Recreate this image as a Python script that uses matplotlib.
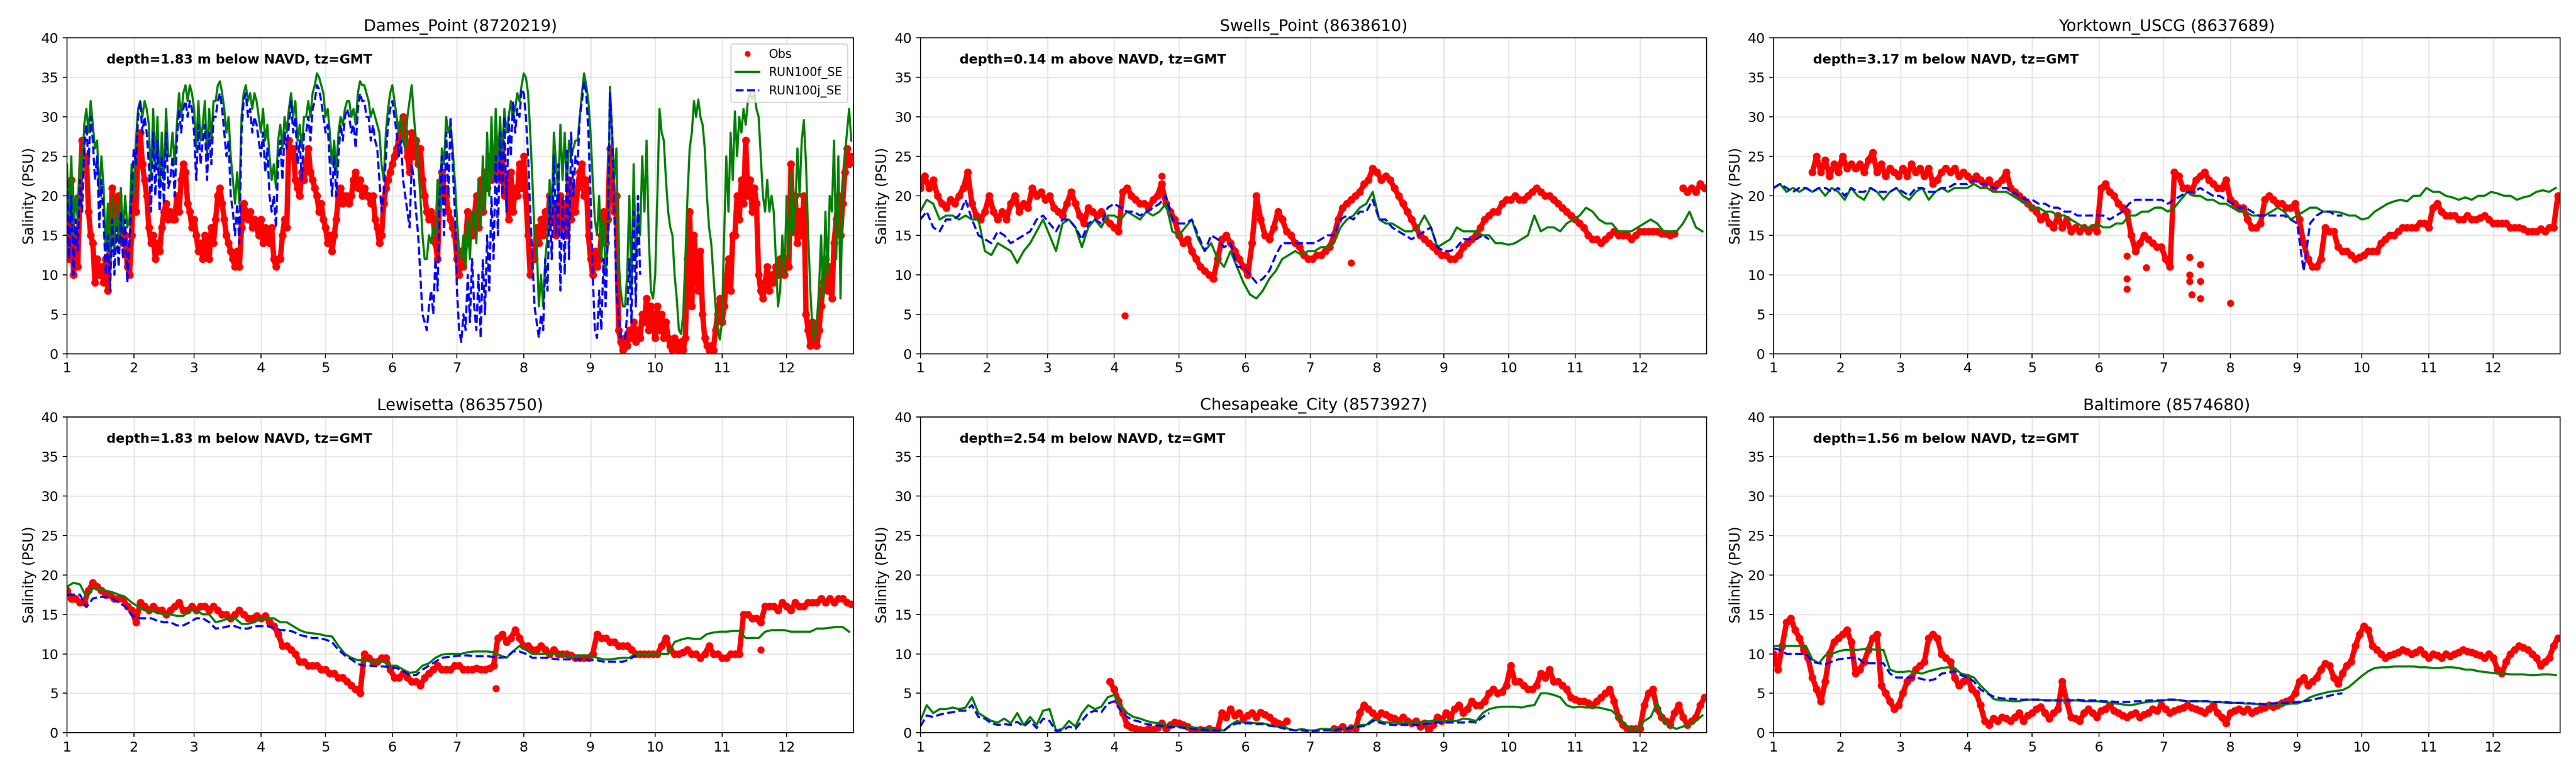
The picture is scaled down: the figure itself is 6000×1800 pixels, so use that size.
import numpy as np
import matplotlib
matplotlib.use('Agg')
import matplotlib.pyplot as plt

nan = np.nan

# x axis: day of year, ticks on the first day of each month
month_start = [0, 31, 59, 90, 120, 151, 181, 212, 243, 273, 304, 334]
month_labels = ['1', '2', '3', '4', '5', '6', '7', '8', '9', '10', '11', '12']

titles = ['Dames_Point (8720219)', 'Swells_Point (8638610)', 'Yorktown_USCG (8637689)',
          'Lewisetta (8635750)', 'Chesapeake_City (8573927)', 'Baltimore (8574680)']
depths = ['depth=1.83 m below NAVD, tz=GMT', 'depth=0.14 m above NAVD, tz=GMT',
          'depth=3.17 m below NAVD, tz=GMT', 'depth=1.83 m below NAVD, tz=GMT',
          'depth=2.54 m below NAVD, tz=GMT', 'depth=1.56 m below NAVD, tz=GMT']

# ---- Dames_Point: daily values ----
dp_obs = [20, 12, 22, 10, 15, 11, 20, 27, 24, 25,
          18, 15, 14, 9, 12, 10, 11, 9, 12, 8,
          15, 21, 17, 18, 20, 17, 14, 15, 11, 10,
          15, 22, 18, 26, 28, 24, 22, 20, 16, 14,
          15, 12, 14, 13, 16, 18, 19, 17, 18, 17,
          17, 20, 18, 22, 24, 23, 19, 18, 16, 17,
          15, 13, 14, 12, 15, 13, 12, 16, 14, 17,
          20, 21, 19, 17, 15, 14, 13, 12, 11, 13,
          11, 16, 19, 18, 17, 18, 16, 17, 16, 15,
          17, 14, 16, 15, 14, 16, 12, 11, 12, 12,
          15, 17, 16, 27, 25, 26, 22, 21, 20, 23,
          22, 24, 26, 23, 22, 21, 20, 18, 19, 17,
          16, 14, 15, 13, 15, 17, 20, 21, 19, 20,
          20, 19, 20, 22, 23, 21, 22, 20, 21, 20,
          20, 19, 20, 17, 16, 14, 15, 19, 21, 22,
          23, 24, 25, 26, 27, 29, 30, 28, 25, 23,
          28, 25, 27, 24, 26, 22, 20, 18, 17, 18,
          17, 14, 12, 20, 23, 21, 20, 18, 17, 16,
          15, 12, 10, 13, 11, 14, 18, 16, 15, 17,
          20, 16, 22, 18, 23, 21, 25, 22, 24, 23,
          27, 22, 26, 20, 22, 17, 23, 18, 21, 20,
          24, 21, 25, 20, 15, 10, 13, 12, 16, 14,
          17, 15, 18, 16, 20, 17, 19, 15, 18, 20,
          16, 19, 15, 22, 17, 20, 18, 21, 23, 24,
          20, 22, 15, 12, 10, 13, 11, 12, 15, 18,
          14, 17, 26, 23, 18, 20, 3, 1.5, 0.5, 2,
          1, 3, 2, 4, 1.5, 3, 2, 5, 4, 7,
          3, 6, 4, 2, 6, 3, 5, 2, 4, 2,
          1, 0.5, 2, 1, 0.5, 1.5, 0.5, 2, 12, 18,
          6, 15, 11, 8, 13, 5, 2, 1, 0.5, 1,
          0.5, 3, 5, 7, 4, 6, 9, 12, 8, 15,
          15, 20, 17, 22, 19, 27, 20, 22, 18, 21,
          19, 10, 8, 7, 9, 11, 8, 10, 9, 11,
          10, 12, 11, 10, 12, 11, 24, 16, 20, 14,
          18, 15, 20, 5, 3, 1, 4, 2, 1, 3,
          6, 9, 12, 8, 11, 7, 14, 17, 20, 15,
          19, 23, 26, 24, 25]
dp_f = [24, 17, 25, 15, 20, 17, 25, 22, 29, 31,
        28, 32, 29, 26, 27, 20, 25, 21, 13, 19,
        12, 20, 13, 19, 14, 21, 15, 20, 16, 17,
        24, 20, 27, 31, 32, 30, 32, 31, 29, 22,
        31, 24, 30, 21, 28, 22, 31, 25, 25, 28,
        24, 29, 33, 30, 33, 34, 32, 34, 33, 31,
        26, 32, 27, 29, 32, 25, 31, 27, 32, 32,
        34, 34.5, 33, 31, 28, 30, 25, 22, 19, 23,
        19, 30, 33, 34, 32, 33, 31, 33, 32, 30,
        28, 31, 27, 29, 25, 22, 24, 21, 27, 29,
        26, 30, 28, 31, 33, 30, 32, 27, 29, 26,
        30, 30, 32, 30, 33, 34, 35.5, 35, 34, 33,
        30, 31, 28, 24, 27, 23, 28, 30, 29, 31,
        32, 32, 30, 31, 29, 33, 34.5, 34, 34, 33,
        32, 30, 31, 30, 29, 28, 24, 22, 28, 31,
        33, 34, 32, 30, 28, 30, 27, 26, 30, 32,
        34, 30, 27, 24, 20, 15, 12, 12, 15, 14,
        16, 15, 22, 18, 26, 24, 30, 28, 29, 26,
        22, 17, 13, 12, 15, 11, 17, 12, 18, 18,
        14, 22, 16, 25, 18, 28, 20, 30, 22, 31,
        24, 30, 25, 31, 28, 30, 32, 30, 31, 33,
        32, 34, 35.5, 35, 33, 28, 22, 15, 14, 6,
        10, 6, 12, 15, 22, 18, 28, 24, 20, 29,
        22, 28, 21, 27, 25, 26, 27, 27, 30, 33,
        35.5, 34, 32, 28, 22, 17, 15, 20, 12, 17,
        10, 14, 33.8, 28, 22, 26, 12, 8, 6, 6,
        10, 20, 8, 24, 12, 18, 15, 25, 18, 27,
        15, 8, 7, 10, 20, 31, 28, 27, 22, 18,
        16, 15, 10, 7, 3, 2.5, 5, 12, 20, 26,
        28, 32, 30, 32.2, 30, 29, 26, 20, 16, 14,
        10, 6, 3, 1.8, 4, 15, 25, 18, 28, 22,
        30.7, 25, 30, 28, 31, 29, 32, 33, 32.3, 33,
        31, 30, 25, 20, 18, 22, 18, 20, 18, 12,
        6, 8, 15, 10, 20, 12, 23, 15, 18, 26,
        20, 27, 29.6, 24, 15, 8, 3, 1.6, 4, 8,
        15, 7, 18, 10, 20, 18, 27, 12, 25, 7,
        20, 25, 28, 31, 27]
dp_j = [22, 12, 20, 10, 17, 13, 22, 18, 26, 29,
        24, 30, 27, 22, 25, 16, 22, 17, 10, 15,
        8, 17, 10, 16, 11, 18, 12, 17, 9, 14,
        20, 26, 24, 30, 32, 28, 30, 28, 24, 18,
        28, 20, 27, 18, 25, 19, 28, 21, 22, 25,
        20, 27, 31, 28, 31, 32, 30, 32, 31, 28,
        22, 29, 24, 27, 29, 22, 28, 24, 30, 30,
        32, 33, 31, 28, 25, 27, 20, 18, 15, 19,
        14, 28, 32, 33, 30, 31, 28, 30, 29, 27,
        25, 28, 23, 26, 20, 18, 20, 16, 24, 27,
        22, 28, 26, 29, 32, 28, 30, 24, 27, 22,
        28, 28, 30, 27, 31, 32, 34, 33.5, 32, 30,
        28, 29, 24, 20, 25, 20, 25, 29, 27, 30,
        31, 30, 28, 29, 26, 31, 33, 32, 32, 30,
        30, 27, 29, 27, 26, 22, 18, 20, 25, 29,
        31, 32, 30, 28, 25, 27, 22, 20, 18, 16,
        24, 22, 18, 15, 10, 5, 4, 3, 6, 8,
        5, 12, 8, 20, 25, 15, 28, 20, 30, 24,
        18, 8, 3, 1.5, 5, 3, 10, 4, 12, 6,
        3, 10, 2, 12, 5, 15, 8, 20, 12, 25,
        15, 28, 20, 30, 18, 30, 25, 32, 28, 31,
        30, 33.5, 33, 30, 25, 18, 12, 6, 4, 2,
        5, 3, 12, 8, 20, 12, 25, 15, 24, 8,
        20, 10, 26, 12, 28, 20, 25, 24, 30, 32,
        34.5, 33, 28, 20, 10, 3, 2, 8, 3, 12,
        6, 15, 33, 28, 18, 8, 5, 2, 2, 1.9,
        5, 12, 4, 18, 6, 20, 10]

# ---- other stations: obs every 2 days, model every 3 days ----
sp_obs = [21, 22.5, 21, 22, 20, 19, 18.5, 19.5, 19, 20,
          21, 23, 19, 17.5, 17, 18, 20, 18, 17, 18,
          17, 19, 20, 18, 19, 18.5, 21, 20, 20.5, 19.5,
          20, 18.5, 18, 17.5, 19, 20.5, 19, 17.5, 16.5, 18.5,
          18, 17.5, 18, 17, 16.5, 16, 15.5, 20.5, 21, 20,
          19.5, 19, 19, 18.5, 19.5, 20, 21.5, 19, 18, 17,
          15, 14, 14.5, 13, 12, 11, 10.5, 10, 9.5, 12,
          14.5, 15, 14, 13, 12, 11, 10, 14, 20, 17,
          15, 14.5, 16, 18, 17, 15.5, 15, 14, 13.5, 12.5,
          12, 12, 12.5, 12.5, 13, 13.5, 15, 17, 18.5, 19,
          19.5, 20, 20.5, 21.5, 22, 23.5, 23, 22, 22.5, 22,
          21, 20, 19, 18, 17, 16, 15, 14.5, 14, 13.5,
          13, 12.5, 12.5, 12, 12, 12.5, 13.5, 14, 14.5, 15,
          16, 17, 17.5, 18, 18, 19, 19.5, 19.5, 20, 19.5,
          19.5, 20, 20.5, 21, 20.5, 20, 20, 19.5, 19, 18.5,
          18, 17.5, 17, 16.5, 16, 15, 14.5, 14.5, 14, 14.5,
          15, 15.5, 15, 15, 15, 14.5, 15, 15.5, 15.5, 15.5,
          15.5, 15.5, 15.2, 15.2, 15, 15.2, nan, 21, 20.5, 21,
          20.5, 21.5, 21]
sp_out_day = [95, 112, 200]
sp_out_val = [4.8, 22.5, 11.5]
sp_f = [18, 19.5, 19, 17, 17.5, 17.5, 17, 17.5, 17, 17,
        13, 12.5, 14, 13.5, 13, 11.5, 13, 14, 15.5, 17,
        15, 13, 16.5, 17, 16, 13.5, 16, 17, 16, 17.5,
        17.5, 17, 18, 17.5, 17, 18, 17.5, 18, 19, 15.5,
        15, 16, 17, 14.5, 13, 14, 12, 11, 13, 11,
        9, 7.5, 7, 8, 9.5, 10.5, 12, 12.5, 13, 12.5,
        13, 13, 13.5, 13.5, 14, 16, 17, 17.5, 18.5, 19,
        20.5, 17, 16.5, 16.5, 16, 15.5, 15.5, 16, 17.5, 16,
        13.5, 14, 14.5, 16, 15.5, 15.5, 15.5, 15, 15, 14,
        14, 13.8, 14, 14.5, 15, 17.5, 15.5, 16, 16, 15.5,
        16.5, 17, 17.5, 18.5, 18, 17, 16.5, 16.5, 15.5, 15.5,
        15.5, 16, 16.5, 17, 16.5, 15.5, 15.5, 15.5, 16.5, 18,
        16, 15.5]
sp_j = [17, 18, 16, 15.5, 17, 17, 17.5, 19.5, 17, 15,
        14.5, 14, 15.5, 15, 14, 14.5, 15, 15.5, 17, 17.5,
        16.5, 15.5, 17, 17, 16, 14.5, 16.5, 17, 16.5, 18.5,
        19, 18.5, 18, 18, 17.5, 18, 18.5, 19, 20, 17,
        16.5, 16.5, 17, 15, 13, 15, 14.5, 13.5, 14, 11,
        11, 10, 9, 9.5, 10.5, 12.5, 14, 14, 14, 14,
        14, 14, 14.5, 15, 15, 17, 17.5, 17, 18, 18,
        19.5, 17, 17, 16, 15.5, 15, 14.5, 15, 15.5, 16,
        13.5, 13, 13, 13.5, 14.5, 14.5, 14.5, 15, 14.5]

yt_obs = [nan, nan, nan, nan, nan, nan, nan, nan, nan, 23,
          25, 23, 24.5, 22.5, 24, 23, 25, 23.5, 24, 23.5,
          24, 23, 24.5, 25.5, 23, 24, 22.5, 23.5, 23, 22.5,
          23.5, 22.5, 24, 23, 23.5, 22.5, 23.5, 21.5, 22, 23,
          23.5, 23, 23.5, 22.5, 23, 22.5, 22, 22.5, 22, 21.5,
          22, 21, 21.5, 22, 23, 21, 20.5, 20, 19.5, 19,
          18.5, 18, 17, 17.5, 16.5, 16, 17.5, 16, 17, 15.5,
          16, 15.5, 16, 15.5, 16, 15.5, 21, 21.5, 20.5, 20,
          19, 18.5, 18, 15, 13, 14, 15, 14.5, 14, 13.5,
          13.5, 12, 11, 23, 22.5, 21, 21, 20.5, 22, 22.5,
          23, 22, 21.5, 21, 21, 22, 19.5, 19, 18.5, 18.5,
          17, 16, 16, 16.5, 19.5, 20, 19.5, 19, 19, 18.5,
          18.5, 19, 17, 14, 12, 11, 11, 12, 16, 15.5,
          15.5, 13.5, 13, 13, 12.5, 12, 12.2, 12.5, 13, 13,
          13, 14, 14.5, 15, 15, 15.5, 16, 16, 16, 16,
          16.5, 16.5, 16, 18.5, 19, 18, 17.5, 17.5, 17.5, 17,
          17, 17.5, 17, 17, 17.2, 17.5, 17, 16.5, 16.5, 16.5,
          16.5, 16, 16, 16, 15.8, 15.5, 15.5, 15.5, 15.8, 15.5,
          16, 16, 20]
yt_out_day = [164, 164, 164, 173, 193, 193, 193, 194, 198, 198, 198, 212]
yt_out_val = [12.4, 9.5, 8.2, 10.9, 12.2, 10, 9.2, 7.5, 11.3, 9.2, 7, 6.4]
yt_f = [21, 21.5, 20.5, 21, 20.5, 21, 20.5, 21, 20, 21,
        20.5, 19.5, 21, 20, 19.5, 21, 20.5, 19.5, 20.5, 21,
        20, 19.5, 20.5, 21, 19.5, 20.5, 21, 20.5, 21, 21,
        21, 21.5, 21, 21, 20.5, 20.5, 20.5, 20, 19.5, 19,
        18.5, 18.5, 18, 18, 17.5, 17.5, 17, 16.5, 16, 16,
        16.5, 16, 16, 16.5, 16.5, 17.5, 17.5, 18, 18, 18.5,
        18.5, 18, 18.5, 19.5, 20.5, 20, 20, 19.5, 19.5, 19,
        19, 18.5, 18, 18, 17.5, 17.5, 17.5, 18, 18.5, 18,
        17, 17.5, 18, 18.5, 18.5, 18, 18, 18, 17.8, 17.5,
        17.5, 17, 17.2, 18, 18.5, 19, 19.3, 19.5, 19.3, 20,
        20, 21, 20.5, 20.5, 20, 19.8, 19.5, 19.8, 19.5, 20,
        20, 20.5, 20.3, 20, 20, 19.5, 19.8, 20, 20.5, 20.7,
        20.5, 21]
yt_j = [21, 21.5, 21, 20.5, 21, 21, 20.5, 21, 21, 20.5,
        21, 20, 21, 20.5, 20.5, 21, 20.5, 20.5, 20.5, 21,
        20.5, 20, 21, 21, 20.5, 20.5, 21, 21, 21.5, 21.5,
        21.5, 22, 21.5, 21.5, 21, 21, 21, 20.5, 20, 19.5,
        19.5, 19, 19, 18.5, 18.5, 18, 18, 17.5, 17.5, 17.5,
        17.5, 17.5, 17, 17.5, 18, 19, 19.5, 19.5, 19.5, 19.5,
        19.5, 19, 19.5, 20, 20.5, 20.5, 21, 20.5, 20, 20,
        19.5, 19, 18.5, 18.5, 18, 17.5, 17.5, 17.5, 17.5, 17.5,
        17, 16.5, 10.5, 16.5, 17.5, 18, 18, 17.5, 17.5]

le_obs = [18, 17, 17, 16.5, 16.5, 18, 19, 18.5, 18, 17.5,
          17.5, 17, 17, 17, 16, 15.5, 14, 16.5, 16, 15.5,
          16, 15.5, 15.5, 15, 15.5, 16, 16.5, 15.5, 15.5, 16,
          15.5, 16, 16, 15.5, 16, 15.5, 15, 15, 14.5, 15,
          15.5, 15, 14.5, 14.5, 14.8, 14.5, 14.8, 14, 13.5, 12.5,
          11, 11, 10.5, 10, 9, 9, 8.5, 8.5, 8.5, 8,
          8, 7.5, 7.5, 7, 7, 6.5, 6, 5.5, 5, 10,
          9.5, 9, 9, 9.5, 9.5, 8, 7, 7, 7.5, 7,
          6.5, 6.5, 6, 7, 7.5, 8, 8.5, 8, 8, 8,
          8.5, 8.5, 8, 8, 8, 8.2, 8, 8, 8.2, 8.5,
          12, 12.5, 11.5, 12, 13, 12, 11, 11, 10.5, 10.5,
          11, 10.5, 10, 10.5, 10, 10, 10, 9.8, 9.5, 9.5,
          9.5, 9.5, 10, 12.5, 12, 12, 11.5, 11.5, 11, 11,
          11, 10.5, 10, 10, 10, 10, 10, 10, 11, 12,
          10.5, 10, 10, 10.2, 10.5, 10, 10, 9.5, 10, 11,
          10, 10, 9.5, 9.5, 10, 10, 10, 15, 15, 14.5,
          14.5, 14, 16, 16, 16, 15.5, 16.5, 16, 15.5, 16.5,
          16, 16, 16.5, 16.5, 16.5, 17, 16.5, 17, 16.5, 17,
          17, 16.5, 16.3]
le_out_day = [199, 322]
le_out_val = [5.6, 10.5]
le_f = [18.5, 19, 18.8, 17.2, 18.3, 18.2, 18, 17.8, 17.5, 17.2,
        16.5, 16, 15.5, 15.5, 15.2, 15, 15, 14.8, 14.8, 15.5,
        15.5, 15, 15, 14, 14.2, 14.5, 14.5, 13.8, 13.8, 14,
        14.5, 14.5, 14.5, 14, 14, 13.5, 13, 12.7, 12.6, 12.5,
        12.3, 12.2, 11, 10, 9.5, 9.2, 9.2, 9, 9, 9,
        8.5, 8.5, 8, 7.6, 7.7, 8.5, 8.8, 9.5, 9.9, 10,
        10, 10, 10.2, 10.3, 10.3, 10.3, 10.2, 9.8, 9.5, 10.3,
        11, 10.5, 10, 10, 10, 10, 10, 9.8, 9.7, 9.8,
        9.8, 9.8, 9.5, 9.3, 9.3, 9.4, 9.5, 9.5, 10, 10,
        10, 10, 10, 10, 11.5, 11.8, 12, 11.9, 11.9, 12.5,
        12.7, 12.8, 12.8, 12.9, 12.9, 12, 12, 12, 12.8, 13,
        13, 13, 12.8, 12.8, 12.8, 12.8, 13.2, 13.2, 13.3, 13.4,
        13.4, 12.8]
le_j = [17.5, 17.5, 17.5, 15.9, 17, 17.2, 17.2, 17, 16.5, 16,
        14.9, 14.5, 14.5, 14.5, 14.2, 14, 14, 13.6, 13.6, 14,
        14.5, 14.5, 14, 13.2, 13.3, 13.5, 13.5, 13.2, 13.2, 13.5,
        13.5, 13.5, 13.3, 13, 13, 12.8, 12.4, 12.2, 12, 12,
        11.8, 11.5, 10.5, 9.8, 9.3, 8.7, 8.5, 8.5, 8.4, 8.4,
        8.3, 8.2, 7.8, 7.3, 7.3, 8, 8.5, 9, 9.5, 9.6,
        9.7, 9.8, 9.8, 9.7, 9.7, 9.7, 9.6, 9.5, 9.6, 10.3,
        10.3, 10, 9.5, 9.5, 9.5, 9.4, 9.3, 9.3, 9.3, 9.3,
        9.3, 9.2, 9.2, 9, 9, 9, 9, 9.3, 9.8]

cc_obs = [nan] * 40 + [
          nan, nan, nan, nan, 6.5, 5.5, 4, 2.5, 1, 0.7,
          0.5, 0.4, 0.3, 0.5, 0.4, 0.6, 1.2, 0.5, 1, 1.3,
          1.2, 1, 0.8, 0.4, 0.3, 0.4, 0.3, 0.5, 0.3, 0.4,
          2.5, 2, 3, 2.2, 2.5, 1.8, 2.2, 2.5, 2, 2.6,
          2.3, 2, 1.5, 1.2, 1, 1.5, nan, nan, nan, nan,
          nan, nan, nan, nan, nan, nan, 0.5, 0.4, 0.8, 0.3,
          0.6, 0.5, 2.5, 3.5, 3, 2.5, 2, 2.5, 2.3, 2,
          1.8, 1.5, 2, 1.5, 1.2, 1.5, 0.8, 1.2, 0.3, 1,
          2, 1.5, 2.5, 2, 3, 3.5, 2.5, 3, 4, 3.5,
          3.5, 4, 5, 5.5, 5, 5.2, 6, 8.5, 6.5, 6.5,
          6, 5.5, 5.5, 6, 7.5, 7, 8, 6.5, 6.5, 6,
          5.5, 4.5, 4.2, 4, 4, 3.8, 3.5, 4, 4.5, 5,
          5.5, 4, 2, 1, 0.5, 0.5, 0.5, 0.5, 3.5, 5,
          5.5, 3, 2, 1.5, 1, 2.5, 3.5, 2, 1, 1.5,
          2, 3.5, 4.5]
cc_f = [1.5, 3.5, 2.5, 3, 3, 3.2, 3, 3.2, 4.5, 2.5,
        2, 1.5, 1.3, 1.8, 1.2, 2.5, 1, 2, 1, 2.8,
        3, 0.3, 0.5, 1.5, 0.8, 2.5, 3.5, 3, 3.3, 4.5,
        4.8, 3.5, 2.5, 2, 1.8, 1.5, 1.3, 1.2, 1, 0.9,
        0.8, 0.8, 0.7, 0.6, 0.5, 0.5, 0.3, 0.3, 1, 1.5,
        1.3, 1.3, 1.2, 1.2, 1, 0.8, 0.8, 0.5, 0.3, 0.5,
        0.3, 0.3, 0.5, 0.5, 0.4, 0.5, 0.6, 0.8, 1, 1,
        1.7, 1.5, 1.3, 1.3, 1.3, 1.2, 1.3, 1.4, 1.4, 1.5,
        1.5, 1.5, 1.5, 1.5, 1.8, 1.7, 1.5, 2.5, 3, 3.2,
        3.3, 3.3, 3.3, 3.2, 3.4, 3.5, 5, 5, 4.8, 4.5,
        3.5, 3.2, 3.3, 3.2, 3.2, 3.2, 3, 2.8, 2, 1,
        0.4, 0.5, 1.5, 2, 3.8, 1.5, 0.8, 0.5, 0.8, 1,
        1.5, 2.2]
cc_j = [0.8, 2.2, 2, 2.3, 2.5, 2.6, 2.8, 2.8, 3.5, 2,
        1.8, 1.2, 1, 1.1, 1, 1.4, 0.8, 1.5, 0.6, 1.8,
        1.5, 0.2, 0.3, 0.8, 0.5, 1.5, 2.5, 2.8, 2.6, 3.7,
        4, 2.8, 2, 1.6, 1.4, 1.1, 1, 0.9, 0.8, 0.7,
        0.7, 0.6, 0.5, 0.4, 0.4, 0.3, 0.3, 0.3, 0.9, 1.2,
        1.2, 1.2, 1.1, 1.1, 0.9, 0.8, 0.6, 0.4, 0.3, 0.3,
        0.2, 0.2, 0.3, 0.3, 0.3, 0.5, 0.5, 0.7, 0.8, 0.9,
        1.5, 1.3, 1.1, 1, 1, 1, 1, 1, 1.1, 1.2,
        1.3, 1.3, 1.3, 1.3, 1.3, 1.4, 1.3, 2, 2.5]

bm_obs = [10, 8, 11, 14, 14.5, 13, 12, 10.5, 9.5, 7,
          5.5, 4, 6.5, 10, 11.5, 12, 12.5, 13, 11.5, 7.5,
          8, 9, 10.5, 12, 12.5, 6, 5, 4, 3, 3.5,
          5, 6.5, 7, 8, 8.5, 9, 12, 12.5, 12, 10,
          9.5, 9, 7, 6, 6.5, 7, 5.5, 5, 3.5, 1.5,
          1, 1.8, 1.5, 2, 1.8, 1.5, 2, 2.5, 1.5, 2.2,
          2.5, 3, 3.3, 2.5, 1.8, 2.5, 3, 6.5, 4, 2,
          1.8, 1.5, 2.5, 3, 2.5, 2, 2.8, 3, 3.5, 2.8,
          2.5, 2.2, 2, 2.3, 2.5, 2, 2.3, 2.5, 3, 2.8,
          3.5, 3, 2.5, 2.8, 3, 3.2, 3.5, 3.2, 3, 2.8,
          2.5, 3, 3.5, 2.5, 2, 1.2, 2.5, 2.8, 3, 2.7,
          3, 2.5, 2.8, 3, 3.2, 3.5, 3.3, 3.5, 3.8, 4,
          4.2, 5, 6.5, 7, 6, 6.5, 7, 8, 8.8, 8.5,
          7, 6.2, 7.5, 8.5, 9, 11, 12.5, 13.5, 13, 11,
          10.5, 10, 9.5, 9.8, 10, 10.2, 10.5, 10.3, 10, 10.2,
          10.5, 10, 9.5, 10, 9.8, 9.5, 10, 9.7, 10, 10.2,
          10.5, 10.3, 10.2, 10, 9.8, 9.5, 10, 9.5, 8, 7.5,
          9, 10, 10.5, 11, 10.8, 10.5, 10, 9.5, 8.5, 9,
          9.5, 11, 12]
bm_f = [11, 11, 11, 11, 11, 11, 9.3, 8.8, 9.8, 10,
        10.3, 10.5, 10.5, 10.5, 10.6, 10.6, 10.5, 10.5, 8, 7.7,
        7.7, 7.8, 7.6, 7.5, 7.8, 8, 8.2, 8.3, 8.2, 7.5,
        7.3, 7, 6, 5.2, 4.3, 4.1, 4.1, 4, 4, 4.2,
        4.2, 4.2, 4.1, 4.1, 4.1, 4.1, 4.1, 4.1, 4, 4,
        4, 3.9, 3.8, 3.7, 3.6, 3.5, 3.6, 3.8, 3.9, 4,
        4, 4.2, 4.2, 4.1, 4, 4, 4, 4, 3.9, 3.9,
        3.8, 3.8, 3.8, 3.7, 3.7, 3.6, 3.6, 3.6, 3.6, 3.6,
        3.7, 3.7, 4, 4.5, 4.8, 5, 5.2, 5.3, 5.4, 5.8,
        6.5, 7.2, 7.8, 8.2, 8.3, 8.3, 8.4, 8.4, 8.4, 8.4,
        8.3, 8.3, 8.2, 8.2, 8.3, 8.3, 8.2, 8, 8, 7.8,
        7.7, 7.6, 7.5, 7.5, 7.4, 7.4, 7.4, 7.3, 7.3, 7.4,
        7.4, 7.3]
bm_j = [10.7, 10.5, 10, 10, 10, 10, 9, 8.8, 8.7, 9,
        9.3, 9.4, 9.5, 9.5, 8.8, 8.8, 8.8, 8.8, 7.5, 7,
        7, 7, 7, 6.8, 6.6, 6.8, 7.5, 7.6, 7.8, 7.3,
        7, 6.5, 5.5, 5, 4.6, 4.4, 4.3, 4.3, 4.2, 4.2,
        4.2, 4.2, 4.1, 4.1, 4.1, 4.1, 4.1, 4.2, 4.1, 4.1,
        4.1, 4, 4, 3.9, 3.9, 3.9, 4, 4, 4.1, 4.1,
        4.1, 4.2, 4.2, 4.1, 4, 4, 4, 4, 3.9, 3.9,
        3.9, 3.8, 3.8, 3.8, 3.7, 3.7, 3.6, 3.7, 3.8, 3.8,
        3.8, 3.9, 4, 4.1, 4.3, 4.5, 4.7, 4.9, 5]

# (obs, obs step, run f, run j, model step, outlier days, outlier values)
panels = [
    (dp_obs, 1, dp_f, dp_j, 1, [], []),
    (sp_obs, 2, sp_f, sp_j, 3, sp_out_day, sp_out_val),
    (yt_obs, 2, yt_f, yt_j, 3, yt_out_day, yt_out_val),
    (le_obs, 2, le_f, le_j, 3, le_out_day, le_out_val),
    (cc_obs, 2, cc_f, cc_j, 3, [], []),
    (bm_obs, 2, bm_f, bm_j, 3, [], []),
]

fig, axes = plt.subplots(2, 3, figsize=(30, 9), dpi=200)
plt.subplots_adjust(left=0.026, right=0.9938, top=0.951, bottom=0.052,
                    wspace=0.085, hspace=0.2)

for k, ax in enumerate(axes.flat):
    obs, ostep, run_f, run_j, mstep, od, ov = panels[k]
    t_obs = np.arange(len(obs)) * ostep
    # obs are dense hourly points in the original, so join them into a band
    ax.plot(t_obs, obs, '-', color='r', lw=4.5, solid_capstyle='round',
            solid_joinstyle='round')
    ax.plot(t_obs, obs, 'o', color='r', ms=6.5, mec='none', label='Obs')
    if len(od):
        ax.plot(od, ov, 'o', color='r', ms=6, mec='none')
    ax.plot(np.arange(len(run_f)) * mstep, run_f, '-', color='g', lw=1.8, label='RUN100f_SE')
    ax.plot(np.arange(len(run_j)) * mstep, run_j, '--', color='b', lw=1.8, label='RUN100j_SE')

    ax.set_xlim(0, 365)
    ax.set_ylim(0, 40)
    ax.set_xticks(month_start)
    ax.set_xticklabels(month_labels)
    ax.set_yticks(np.arange(0, 41, 5))
    ax.tick_params(labelsize=11.5)
    ax.grid(True, color='#e6e6e6', lw=1)
    ax.set_ylabel('Salinity (PSU)', fontsize=12)
    ax.set_title(titles[k], fontsize=13.5)
    ax.text(0.05, 0.95, depths[k], transform=ax.transAxes, fontsize=11,
            fontweight='bold', va='top')
    if k == 0:
        ax.legend(loc='upper right', fontsize=10, markerscale=0.75)

fig.savefig('out.png')
